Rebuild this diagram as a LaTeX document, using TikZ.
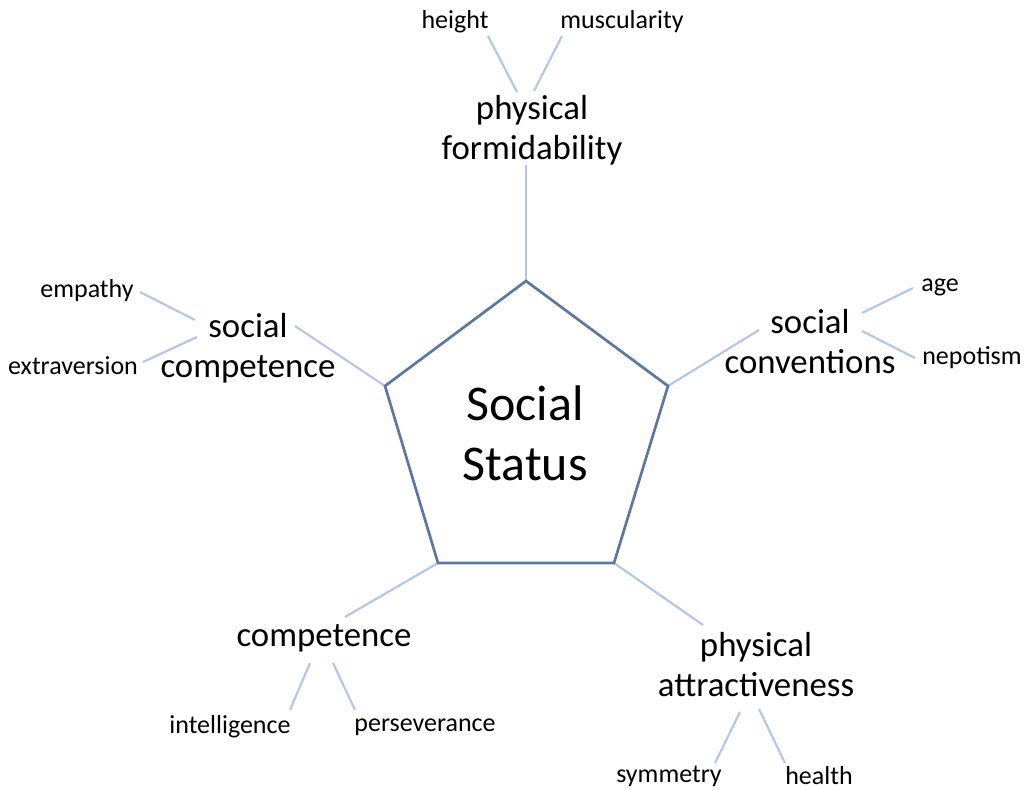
\documentclass[tikz,border=0pt]{standalone}
\usepackage{fontspec}
\setmainfont{Carlito}
\definecolor{rim}{HTML}{5B78A3}
\definecolor{spoke}{HTML}{B4C7E7}
\begin{document}
\begin{tikzpicture}[x=1pt,y=-1pt,
  core/.style={font=\fontsize{50}{60}\selectfont,align=center,inner sep=0pt},
  factor/.style={font=\fontsize{34.8}{40}\selectfont,align=center,inner sep=0pt},
  trait/.style={font=\fontsize{26}{30}\selectfont,inner sep=0pt},
  rimline/.style={draw=rim,line width=2.7pt,line join=miter},
  spokeline/.style={draw=spoke,line width=2.2pt}]
\useasboundingbox (0,0) rectangle (1026,790);

% pentagon corners
\coordinate (p1) at (526,281);
\coordinate (p2) at (668,386);
\coordinate (p3) at (614,563);
\coordinate (p4) at (438,563);
\coordinate (p5) at (385,386);

% outer ends of the main spokes
\coordinate (e1) at (526,165);
\coordinate (e2) at (759,330);
\coordinate (e3) at (703,625);
\coordinate (e4) at (345,617);
\coordinate (e5) at (295,326);

% ends of the trait lines
\coordinate (h1) at (488,36);  \coordinate (h2) at (517,92);
\coordinate (m1) at (562,36);  \coordinate (m2) at (534,91);
\coordinate (em1) at (140,292); \coordinate (em2) at (195,320);
\coordinate (ex1) at (143,362); \coordinate (ex2) at (197,337);
\coordinate (a1) at (913,288); \coordinate (a2) at (862,313);
\coordinate (n1) at (915,358); \coordinate (n2) at (862,331);
\coordinate (i1) at (290,710); \coordinate (i2) at (310,663);
\coordinate (pe1) at (355,710); \coordinate (pe2) at (333,663);
\coordinate (s1) at (715,763); \coordinate (s2) at (740,712);
\coordinate (he1) at (785,763); \coordinate (he2) at (759,709);

% labels
\node[core] (status) at (525,433) {Social\\Status};
\node[factor] (formid) at (532,130) {physical\\formidability};
\node[factor] (socconv) at (810,342) {social\\conventions};
\node[factor] (attract) at (756,665) {physical\\attractiveness};
\node[factor] (comp) at (324,638) {competence};
\node[factor] (soccomp) at (248,348) {social\\competence};

\node[trait] (height) at (455,22) {height};
\node[trait] (muscul) at (622,22) {muscularity};
\node[trait] (empathy) at (87,291) {empathy};
\node[trait] (extra) at (73,366) {extraversion};
\node[trait] (age) at (940,287) {age};
\node[trait] (nepot) at (972,358) {nepotism};
\node[trait] (intel) at (230,727) {intelligence};
\node[trait] (perse) at (425,727) {perseverance};
\node[trait] (symm) at (669,776) {symmetry};
\node[trait] (health) at (819,776) {health};

% spokes from the pentagon
\draw[spokeline] (p1) -- (e1);
\draw[spokeline] (p2) -- (e2);
\draw[spokeline] (p3) -- (e3);
\draw[spokeline] (p4) -- (e4);
\draw[spokeline] (p5) -- (e5);

% trait lines
\draw[spokeline] (h1) -- (h2);
\draw[spokeline] (m1) -- (m2);
\draw[spokeline] (em1) -- (em2);
\draw[spokeline] (ex1) -- (ex2);
\draw[spokeline] (a1) -- (a2);
\draw[spokeline] (n1) -- (n2);
\draw[spokeline] (i1) -- (i2);
\draw[spokeline] (pe1) -- (pe2);
\draw[spokeline] (s1) -- (s2);
\draw[spokeline] (he1) -- (he2);

% the pentagon
\draw[rimline] (p1) -- (p2) -- (p3) -- (p4) -- (p5) -- cycle;
\end{tikzpicture}
\end{document}
